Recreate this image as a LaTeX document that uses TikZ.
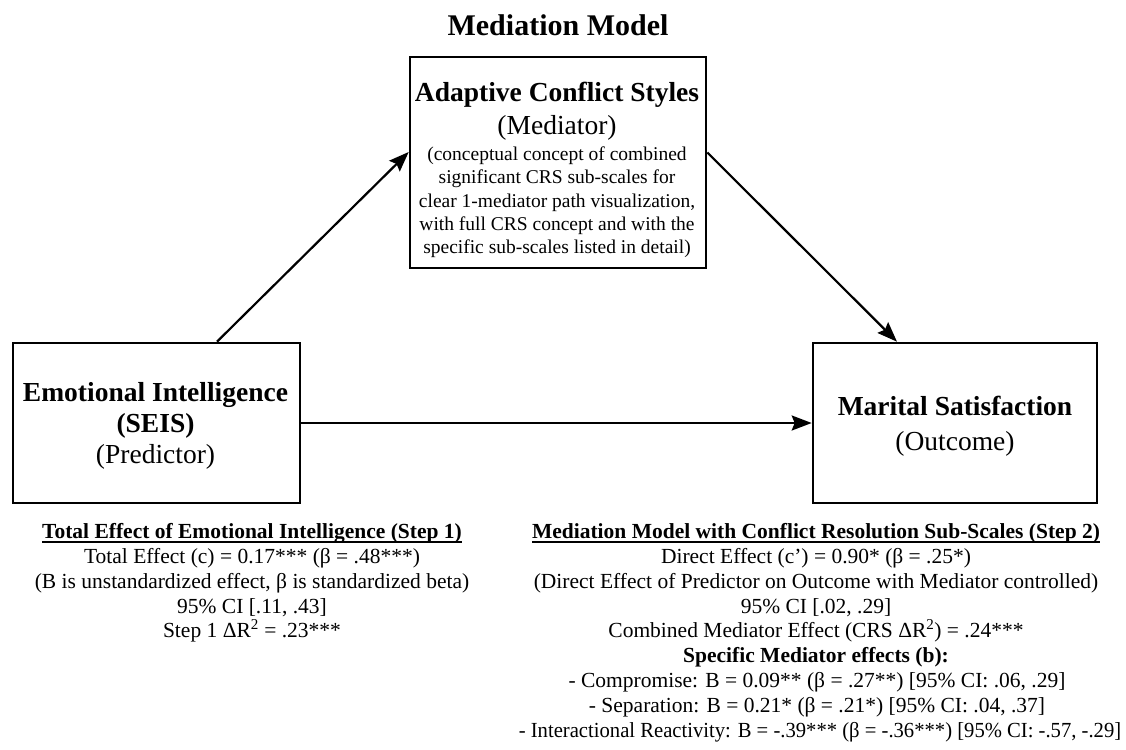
\documentclass[tikz,border=0pt]{standalone}
\usepackage{fontspec}
\setmainfont{Liberation Serif}
\usetikzlibrary{arrows.meta,calc}
\newcommand\myul[1]{\setbox0\hbox{#1}\rlap{\rule[-4.5pt]{\wd0}{1.6pt}}\box0}
\begin{document}
\begin{tikzpicture}[x=1pt,y=-1pt,
 box/.style={draw, line width=2.6pt, inner sep=0pt},
 arr/.style={line width=2.2pt, -{Stealth[length=20pt,width=15pt,inset=3pt]}},
 txt/.style={anchor=base, inner sep=0pt},
 big/.style={font=\fontsize{27.5}{33}\selectfont},
 bigb/.style={font=\fontsize{27.5}{33}\selectfont\bfseries},
 small/.style={font=\fontsize{19.5}{23.3}\selectfont},
 body/.style={font=\fontsize{21.5}{24.8}\selectfont},
 bodyb/.style={font=\fontsize{21.5}{24.8}\selectfont\bfseries}]
\useasboundingbox (0,0) rectangle (1126,749);
% boxes
\node[box, minimum width=287pt, minimum height=160pt] (pred) at (156.5,423) {};
\node[box, minimum width=284pt, minimum height=160pt] (out) at (955,423) {};
\node[box, minimum width=296pt, minimum height=211pt] (med) at (558,162.5) {};
% title
\node[txt, font=\fontsize{30}{36}\selectfont\bfseries] (title) at (558,36) {Mediation Model};
% mediator text
\node[txt, bigb] (m1) at (557,102) {Adaptive Conflict Styles};
\node[txt, big] (m2) at (557,135) {(Mediator)};
\node[txt, small] (m3) at (557,160) {(conceptual concept of combined};
\node[txt, small] (m4) at (557,183) {significant CRS sub-scales for};
\node[txt, small] (m5) at (557,207) {clear 1-mediator path visualization,};
\node[txt, small] (m6) at (557,230) {with full CRS concept and with the};
\node[txt, small] (m7) at (557,253) {specific sub-scales listed in detail)};
% predictor text
\node[txt, bigb] (p1) at (155.5,401) {Emotional Intelligence};
\node[txt, bigb] (p2) at (155.5,432) {(SEIS)};
\node[txt, big] (p3) at (155.5,463) {(Predictor)};
% outcome text
\node[txt, bigb] (o1) at (955,415) {Marital Satisfaction};
\node[txt, big] (o2) at (955,450) {(Outcome)};
% arrows
\draw[arr] ([xshift=60.5pt]pred.north) -- ([yshift=10.5pt]med.west);
\draw[arr] ([yshift=10pt]med.east) -- ([xshift=-58pt]out.north);
\draw[arr] (pred.east) -- (out.west);
% left text
\node[txt, bodyb] (l1) at (252,538) {\myul{Total Effect of Emotional Intelligence (Step 1)}};
\node[txt, body] (l2) at (252,563) {Total Effect (c) = 0.17*** (β = .48***)};
\node[txt, body] (l3) at (252,588) {(B is unstandardized effect, β is standardized beta)};
\node[txt, body] (l4) at (252,613) {95\% CI [.11, .43]};
\node[txt, body] (l5) at (252,637) {Step 1 ΔR\textsuperscript{2} = .23***};
% right text
\node[txt, bodyb] (r1) at (816,538) {\myul{Mediation Model with Conflict Resolution Sub-Scales (Step 2)}};
\node[txt, body] (r2) at (816,563) {Direct Effect (c’) = 0.90* (β = .25*)};
\node[txt, body] (r3) at (816,588) {(Direct Effect of Predictor on Outcome with Mediator controlled)};
\node[txt, body] (r4) at (816,613) {95\% CI [.02, .29]};
\node[txt, body] (r5) at (816,637) {Combined Mediator Effect (CRS ΔR\textsuperscript{2}) = .24***};
\node[txt, bodyb] (r6) at (816,662) {Specific Mediator effects (b):};
\node[txt, body] (r7) at (817,687) {- Compromise: B = 0.09** (β = .27**) [95\% CI: .06, .29]};
\node[txt, body] (r8) at (817,712) {- Separation: B = 0.21* (β = .21*) [95\% CI: .04, .37]};
\node[txt, body, xscale=0.96] (r9) at (820,737) {- Interactional Reactivity: B = -.39*** (β = -.36***) [95\% CI: -.57, -.29]};
\end{tikzpicture}
\end{document}
